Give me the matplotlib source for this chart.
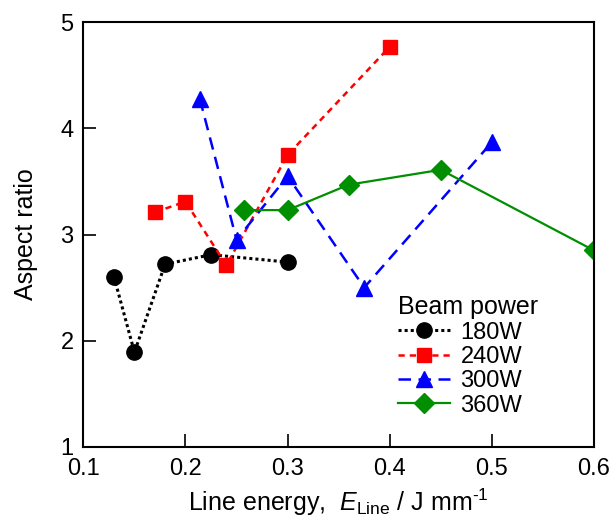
import matplotlib
matplotlib.use("Agg")
import matplotlib.pyplot as plt

plt.rcParams['font.family'] = ['Liberation Sans', 'DejaVu Sans']
plt.rcParams['mathtext.fontset'] = 'custom'
plt.rcParams['mathtext.rm'] = 'Liberation Sans'
plt.rcParams['mathtext.it'] = 'Liberation Sans:italic'

# line energy (J/mm) vs aspect ratio for each beam power
e_180 = [0.13, 0.15, 0.18, 0.225, 0.30]
ar_180 = [2.60, 1.89, 2.72, 2.81, 2.74]

e_240 = [0.17, 0.20, 0.24, 0.30, 0.40]
ar_240 = [3.21, 3.31, 2.71, 3.75, 4.77]

e_300 = [0.214, 0.25, 0.30, 0.375, 0.50]
ar_300 = [4.28, 2.95, 3.55, 2.50, 3.87]

e_360 = [0.257, 0.30, 0.36, 0.45, 0.60]
ar_360 = [3.23, 3.23, 3.47, 3.61, 2.85]

fig = plt.figure(figsize=(6.13, 5.2), dpi=100)
ax = fig.add_axes([0.136, 0.141, 0.833, 0.816])

ax.plot(e_180, ar_180, color='black', linestyle=(0, (1, 1)), lw=2.2,
        marker='o', ms=11, label='180W')
ax.plot(e_240, ar_240, color='#ff0000', linestyle=(0, (2.5, 2)), lw=1.8,
        marker='s', ms=10.5, label='240W')
ax.plot(e_300, ar_300, color='#0000ff', linestyle=(0, (5, 3)), lw=1.8,
        marker='^', ms=12, label='300W')
ax.plot(e_360, ar_360, color='#008f00', linestyle='-', lw=1.6,
        marker='D', ms=10, label='360W')

ax.set_xlim(0.1, 0.6)
ax.set_ylim(1, 5)
ax.set_xticks([0.1, 0.2, 0.3, 0.4, 0.5, 0.6])
ax.set_yticks([1, 2, 3, 4, 5])
ax.tick_params(direction='in', length=9.5, width=1.2, labelsize=17, pad=7)
ax.tick_params(axis='x', pad=8)
for s in ax.spines.values():
    s.set_linewidth(1.5)

ax.set_xlabel(r'Line energy,  $\mathit{E}_{\mathrm{Line}}$ / J mm$^{\text{-1}}$',
              fontsize=18, labelpad=5)
ax.set_ylabel('Aspect ratio', fontsize=18, labelpad=16)

leg = ax.legend(title='Beam power', loc='upper left', bbox_to_anchor=(0.616, 0.357),
                frameon=False, fontsize=17, title_fontsize=18, handlelength=2.2,
                handletextpad=0.45, labelspacing=0.1, borderpad=0.0,
                borderaxespad=0.0)
leg._legend_box.align = 'left'

fig.savefig('out.png', dpi=100)
